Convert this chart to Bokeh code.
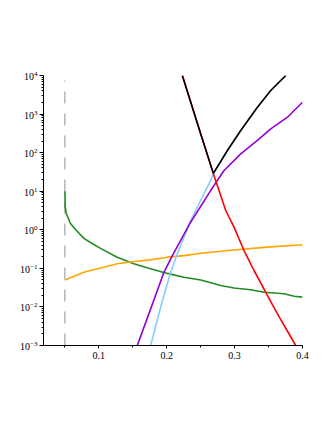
from bokeh.plotting import figure
from bokeh.models import FixedTicker, LogTickFormatter, SingleIntervalTicker, Range1d
from bokeh.embed import file_html
from bokeh.resources import INLINE

# ---- data ----
green_x = [0.05, 0.0505, 0.052, 0.055, 0.058, 0.065, 0.078, 0.09, 0.1025, 0.127, 0.1516,
           0.176, 0.201, 0.2254, 0.25, 0.2795, 0.2991, 0.3237, 0.3434, 0.3729, 0.3876, 0.4]
green_y = [10, 4.0, 2.6, 2.0, 1.48, 1.05, 0.60, 0.44, 0.33, 0.195, 0.132,
           0.098, 0.074, 0.059, 0.050, 0.036, 0.031, 0.028, 0.024, 0.022, 0.019, 0.018]

orange_x = [0.05, 0.0779, 0.1025, 0.127, 0.1516, 0.176, 0.201, 0.2254, 0.25, 0.2991, 0.348, 0.40]
orange_y = [0.050, 0.079, 0.102, 0.132, 0.151, 0.166, 0.195, 0.214, 0.247, 0.30, 0.355, 0.41]

red_x = [0.223, 0.25, 0.2687, 0.2721, 0.2869, 0.2991, 0.3139, 0.3286, 0.3459, 0.3631, 0.39]
red_y = [1e4, 309, 28.2, 19.0, 3.16, 1.17, 0.29, 0.088, 0.024, 0.0066, 0.001]

blue_x = [0.1763, 0.191, 0.2058, 0.2156, 0.2352, 0.2647, 0.2687, 0.2894, 0.309, 0.3336, 0.3532, 0.3754]
blue_y = [0.001, 0.0098, 0.079, 0.238, 1.74, 19.0, 28.2, 113.5, 375, 1507, 4083, 1e4]

black_x = [0.223, 0.25, 0.2687, 0.2894, 0.309, 0.3336, 0.3532, 0.3754]
black_y = [1e4, 309, 29.0, 113.5, 375, 1507, 4083, 1e4]

purple_x = [0.1566, 0.1737, 0.1959, 0.2083, 0.2352, 0.2647, 0.2844, 0.309, 0.3336, 0.3532, 0.3779, 0.40]
purple_y = [0.001, 0.0066, 0.079, 0.215, 1.57, 10.4, 34.4, 93, 207, 415, 830, 2032]

asym_x = 0.05
asym_y = [1e-3, 7.4e3]

x_ticks = [0.1, 0.2, 0.3, 0.4]
y_ticks = [1e-3, 1e-2, 1e-1, 1e0, 1e1, 1e2, 1e3, 1e4]

FONT = "Liberation Serif"

p = figure(width=324, height=422, y_axis_type="log",
           x_range=Range1d(0.0185, 0.4), y_range=Range1d(1e-3, 1e4),
           output_backend="svg", toolbar_location=None,
           frame_width=259, frame_height=270,
           min_border_left=43, min_border_top=75, min_border_right=22, min_border_bottom=77)
p.outline_line_color = None
p.xgrid.visible = False
p.ygrid.visible = False
p.background_fill_color = "white"
p.border_fill_color = "white"

# axes styling
minor_y = [m * 10.0 ** e for e in range(-3, 4) for m in range(2, 10)]
p.yaxis.ticker = FixedTicker(ticks=y_ticks, minor_ticks=minor_y)
p.yaxis.formatter = LogTickFormatter()
p.xaxis.ticker = SingleIntervalTicker(interval=0.1, num_minor_ticks=2)
for ax in (p.xaxis, p.yaxis):
    ax.axis_line_color = "black"
    ax.axis_line_width = 1
    ax.major_tick_line_color = "black"
    ax.minor_tick_line_color = "black"
    ax.major_label_text_font = FONT
    ax.major_label_text_font_size = "10px"
    ax.major_label_text_color = "black"
p.yaxis.major_tick_in = 0
p.yaxis.major_tick_out = 4
p.yaxis.minor_tick_in = 0
p.yaxis.minor_tick_out = 2
p.yaxis.major_label_standoff = 2
p.xaxis.major_tick_in = 0
p.xaxis.major_tick_out = 3
p.xaxis.minor_tick_in = 0
p.xaxis.minor_tick_out = 2
p.xaxis.major_label_standoff = 3

# dashed asymptote
p.line([asym_x, asym_x], asym_y, line_color="#999999", line_width=1.1, line_dash="12 10")

lw = 1.6
p.line(green_x, green_y, line_color="#228B22", line_width=lw)
p.line(orange_x, orange_y, line_color="#FFA500", line_width=lw)
p.line(blue_x, blue_y, line_color="#87CEFA", line_width=lw)
p.line(purple_x, purple_y, line_color="#9400D3", line_width=lw)
p.line(red_x, red_y, line_color="#FF0000", line_width=lw)
p.line(black_x, black_y, line_color="#000000", line_width=lw)

open("out.html", "w").write(file_html(p, INLINE))
